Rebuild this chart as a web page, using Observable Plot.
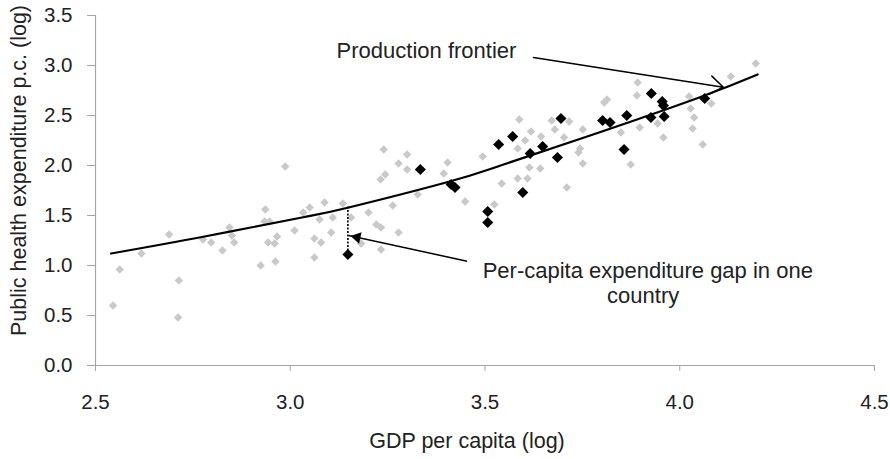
<!DOCTYPE html>
<html>
<head>
<meta charset="utf-8">
<script src="https://cdn.jsdelivr.net/npm/d3@7"></script>
<script src="https://cdn.jsdelivr.net/npm/@observablehq/plot@0.6"></script>
<style>
  html, body { margin: 0; padding: 0; background: #fff; }
  #chart { width: 890px; height: 459px; }
</style>
</head>
<body>
<div id="chart"></div>
<script>
// ---- Data ----
const xTicks = [2.5, 3.0, 3.5, 4.0, 4.5];
const yTicks = [0.0, 0.5, 1.0, 1.5, 2.0, 2.5, 3.0, 3.5];

const grayX = [2.545, 2.562, 2.618, 2.689, 2.714, 2.712, 2.776, 2.797, 2.826, 2.844, 2.856, 2.850,
  2.936, 2.934, 2.947, 2.924, 2.943, 2.960, 2.966, 2.962, 3.011, 2.987, 3.240, 3.300, 3.278, 3.300,
  3.232, 3.244, 3.404, 3.394, 3.494, 3.449, 3.327, 3.263, 3.201, 3.221, 3.233, 3.278, 3.233, 3.182,
  3.135, 3.088, 3.109, 3.075, 3.050, 3.033, 3.062, 3.079, 3.105, 3.062, 3.156, 3.524, 3.543, 3.588,
  3.584, 3.618, 3.603, 3.614, 3.609, 3.584, 3.644, 3.642, 3.671, 3.679, 3.703, 3.716, 3.710, 3.751,
  3.744, 3.751, 3.740, 3.806, 3.813, 3.849, 3.874, 3.892, 3.890, 3.897, 3.958, 3.943, 4.024, 4.037,
  4.033, 4.059, 4.195, 4.131, 4.081, 4.028];
const grayY = [0.60, 0.96, 1.12, 1.31, 0.85, 0.48, 1.26, 1.23, 1.15, 1.38, 1.23, 1.30,
  1.56, 1.44, 1.44, 1.00, 1.23, 1.22, 1.29, 1.04, 1.35, 1.99, 2.16, 2.11, 2.02, 1.96,
  1.86, 1.91, 2.03, 1.92, 2.09, 1.64, 1.71, 1.60, 1.53, 1.41, 1.38, 1.33, 1.16, 1.22,
  1.62, 1.63, 1.48, 1.46, 1.58, 1.53, 1.27, 1.23, 1.33, 1.08, 1.48, 1.61, 1.82, 2.46,
  2.17, 2.34, 2.25, 1.98, 1.87, 1.87, 2.29, 1.97, 2.45, 2.36, 2.28, 2.44, 1.78, 2.36,
  2.17, 2.02, 2.13, 2.63, 2.66, 2.33, 2.01, 2.83, 2.70, 2.38, 2.28, 2.42, 2.69, 2.48,
  2.37, 2.21, 3.02, 2.89, 2.62, 2.57];

const blackX = [3.148, 3.334, 3.413, 3.423, 3.507, 3.507, 3.535, 3.571, 3.616, 3.648, 3.597, 3.695,
  3.686, 3.802, 3.821, 3.864, 3.857, 3.927, 3.955, 3.958, 3.926, 3.960, 4.064];
const blackY = [1.11, 1.96, 1.81, 1.78, 1.54, 1.43, 2.21, 2.29, 2.12, 2.19, 1.73, 2.47,
  2.08, 2.45, 2.43, 2.50, 2.16, 2.72, 2.64, 2.60, 2.48, 2.49, 2.67];

const frontierX = [2.54, 2.78, 3.03, 3.15, 3.40, 3.54, 3.77, 4.05, 4.20];
const frontierY = [1.12, 1.29, 1.48, 1.58, 1.83, 2.00, 2.30, 2.68, 2.91];

// gap segment (one country)
const gapX = [3.148];
const gapY1 = [1.11];
const gapY2 = [1.59];

// annotations (left-anchored lines, then the centred second line)
const annoStartText = ["Production frontier", "Per-capita expenditure gap in one"];
const annoStartX = [3.119, 3.494];
const annoStartY = [3.15, 0.95];
const annoMidText = ["country"];
const annoMidX = [3.906];
const annoMidY = [0.70];

const arrow1 = {x1: 3.6245, y1: 3.08, x2: 4.112, y2: 2.783};
const arrow2 = {x1: 3.454, y1: 1.043, x2: 3.150, y2: 1.30};

const xTitle = "GDP per capita (log)";
const yTitle = "Public health expenditure p.c. (log)";

// ---- Build tables ----
const gray = grayX.map((x, i) => ({x, y: grayY[i]}));
const black = blackX.map((x, i) => ({x, y: blackY[i]}));
const frontier = frontierX.map((x, i) => ({x, y: frontierY[i]}));
const gap = gapX.map((x, i) => ({x, y1: gapY1[i], y2: gapY2[i]}));
const annoStart = annoStartText.map((t, i) => ({t, x: annoStartX[i], y: annoStartY[i]}));
const annoMid = annoMidText.map((t, i) => ({t, x: annoMidX[i], y: annoMidY[i]}));

const font = "'Liberation Sans', Arial, Helvetica, sans-serif";
const axisColor = "#a6a6a6";
const textColor = "#222";

const chart = Plot.plot({
  width: 890,
  height: 459,
  marginLeft: 95,
  marginRight: 16,
  marginTop: 15,
  marginBottom: 94,
  style: {fontFamily: font, fontSize: "20px", color: textColor, background: "#fff", overflow: "visible"},
  x: {domain: [2.5, 4.5]},
  y: {domain: [0, 3.5]},
  marks: [
    Plot.axisX({ticks: xTicks, tickFormat: d => d.toFixed(1), tickSize: 6, tickPadding: 23,
      stroke: axisColor, fill: textColor, label: null, fontSize: 20.5}),
    Plot.axisY({ticks: yTicks, tickFormat: d => d.toFixed(1), tickSize: 8, tickPadding: 15,
      stroke: axisColor, fill: textColor, label: null, fontSize: 20.5}),
    Plot.ruleY([0], {stroke: axisColor, strokeWidth: 1.2}),
    Plot.ruleX([2.5], {stroke: axisColor, strokeWidth: 1.2}),
    Plot.dot(gray, {x: "x", y: "y", symbol: "diamond2", r: 3.8, fill: "#c9c9c9", stroke: null}),
    Plot.dot(black, {x: "x", y: "y", symbol: "diamond2", r: 5, fill: "#000", stroke: null}),
    Plot.line(frontier, {x: "x", y: "y", curve: "natural", stroke: "#000", strokeWidth: 2.2}),
    Plot.ruleX(gap, {x: "x", y1: "y1", y2: "y2", stroke: "#000", strokeWidth: 1.6, strokeDasharray: "2,1.5"}),
    Plot.arrow([arrow1], {x1: "x1", y1: "y1", x2: "x2", y2: "y2", stroke: "#000", strokeWidth: 1.5,
      headLength: 16, headAngle: 70, insetStart: 0, insetEnd: 0}),
    Plot.link([arrow2], {x1: "x1", y1: "y1", x2: "x2", y2: "y2", stroke: "#000", strokeWidth: 1.5}),
    Plot.dot([arrow2], {x: "x2", y: "y2", symbol: "triangle2", r: 5.5, fill: "#000", stroke: null,
      rotate: -77.8, dx: 8.4, dy: 1.8}),
    Plot.text(annoStart, {x: "x", y: "y", text: "t", textAnchor: "start", lineAnchor: "middle",
      fontSize: 22, fill: textColor}),
    Plot.text(annoMid, {x: "x", y: "y", text: "t", textAnchor: "middle", lineAnchor: "middle",
      fontSize: 22, fill: textColor}),
    Plot.text([xTitle], {frameAnchor: "bottom", text: d => d, dx: -18, dy: 76, textAnchor: "middle",
      lineAnchor: "middle", fontSize: 21.5, fill: textColor}),
    Plot.text([yTitle], {frameAnchor: "left", text: d => d, rotate: -90, dx: -76, dy: -20,
      textAnchor: "middle", lineAnchor: "middle", fontSize: 21.5, fill: textColor})
  ]
});

document.getElementById("chart").appendChild(chart);
</script>
</body>
</html>
